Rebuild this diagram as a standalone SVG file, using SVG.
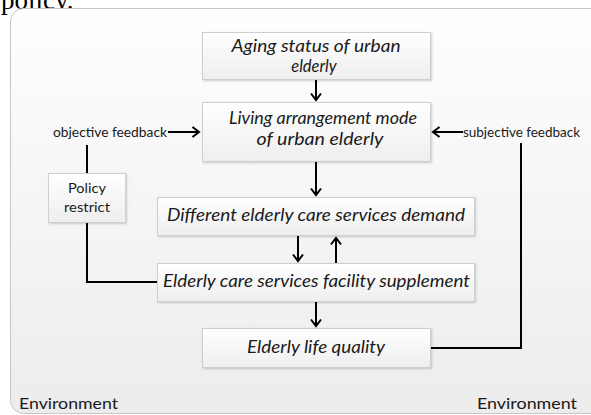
<svg xmlns="http://www.w3.org/2000/svg" width="591" height="415" viewBox="0 0 591 415">
<style>
.box{fill:url(#boxg);stroke:#cfcfcf;stroke-width:1;filter:url(#sh)}
.t{font-family:Lato,"Liberation Sans",sans-serif;font-style:italic;font-size:16.5px;fill:#1a1a1a;text-anchor:middle}
.s{font-family:Lato,"Liberation Sans",sans-serif;font-size:12.5px;fill:#1a1a1a}
.env{font-family:Lato,"Liberation Sans",sans-serif;font-size:16px;fill:#1a1a1a}
.c{fill:none;stroke:#000;stroke-width:2}
</style>
<defs>
<linearGradient id="bg" x1="0" y1="0" x2="0" y2="1">
<stop offset="0" stop-color="#fefefe"/>
<stop offset="1" stop-color="#ececec"/>
</linearGradient>
<linearGradient id="boxg" x1="0" y1="0" x2="0" y2="1">
<stop offset="0" stop-color="#ffffff"/>
<stop offset="1" stop-color="#eeeeee"/>
</linearGradient>
<filter id="sh" x="-5%" y="-10%" width="110%" height="130%">
<feDropShadow dx="1" dy="1" stdDeviation="0.8" flood-color="#000" flood-opacity="0.18"/>
</filter>
<marker id="ah" viewBox="-8 -6 10 12" refX="0" refY="0" markerWidth="10" markerHeight="12" markerUnits="userSpaceOnUse" orient="auto">
<path d="M-6.5,-5 L0,0 L-6.5,5" fill="none" stroke="#000" stroke-width="2"/>
</marker>
</defs>
<text x="1" y="9" font-family="'Liberation Serif',serif" font-size="27" fill="#000">policy.</text>
<g id="panel">
<rect x="10.5" y="8.5" width="610" height="405" rx="13" fill="url(#bg)" stroke="#c6c6c6" stroke-width="1"/>
<text class="env" x="19" y="409" textLength="99" lengthAdjust="spacingAndGlyphs">Environment</text>
<text class="env" x="477" y="409" textLength="100" lengthAdjust="spacingAndGlyphs">Environment</text>
</g>
<g id="connectors">
<line class="c" x1="316" y1="80" x2="316" y2="100" marker-end="url(#ah)"/>
<line class="c" x1="316" y1="162" x2="316" y2="195" marker-end="url(#ah)"/>
<line class="c" x1="298" y1="236" x2="298" y2="261" marker-end="url(#ah)"/>
<line class="c" x1="336" y1="263" x2="336" y2="238" marker-end="url(#ah)"/>
<line class="c" x1="316" y1="302" x2="316" y2="326" marker-end="url(#ah)"/>
<line class="c" x1="168" y1="132" x2="199" y2="132" marker-end="url(#ah)"/>
<line class="c" x1="463" y1="132" x2="433" y2="132" marker-end="url(#ah)"/>
<polyline class="c" points="87,145 87,173"/>
<polyline class="c" points="87,223 87,282 157,282"/>
<polyline class="c" points="521,143 521,348 430,348"/>
</g>
<g id="feedback-labels">
<text class="s" x="53" y="137" textLength="114" lengthAdjust="spacingAndGlyphs">objective feedback</text>
<text class="s" x="463" y="137" textLength="117" lengthAdjust="spacingAndGlyphs">subjective feedback</text>
</g>
<g id="n1">
<rect class="box" x="202.5" y="32.5" width="228" height="47"/>
<text class="t" x="316" y="52" textLength="169" lengthAdjust="spacingAndGlyphs">Aging status of urban</text>
<text class="t" x="314" y="72">elderly</text>
</g>
<g id="n2">
<rect class="box" x="202.5" y="102.5" width="228" height="59"/>
<text class="t" x="323" y="124" textLength="188" lengthAdjust="spacingAndGlyphs">Living arrangement mode</text>
<text class="t" x="320" y="145" textLength="127" lengthAdjust="spacingAndGlyphs">of urban elderly</text>
</g>
<g id="n3">
<rect class="box" x="157.5" y="197.5" width="317" height="38"/>
<text class="t" x="316" y="221" textLength="298" lengthAdjust="spacingAndGlyphs">Different elderly care services demand</text>
</g>
<g id="n4">
<rect class="box" x="157.5" y="263.5" width="317" height="38"/>
<text class="t" x="316.5" y="287" textLength="307" lengthAdjust="spacingAndGlyphs">Elderly care services facility supplement</text>
</g>
<g id="n5">
<rect class="box" x="202.5" y="328.5" width="228" height="39"/>
<text class="t" x="316" y="353" textLength="138" lengthAdjust="spacingAndGlyphs">Elderly life quality</text>
</g>
<g id="policy">
<rect class="box" x="48.5" y="173.5" width="77" height="49"/>
<text class="s" x="87" y="193" text-anchor="middle" textLength="38" lengthAdjust="spacingAndGlyphs">Policy</text>
<text class="s" x="87" y="212" text-anchor="middle" textLength="46" lengthAdjust="spacingAndGlyphs">restrict</text>
</g>
</svg>
